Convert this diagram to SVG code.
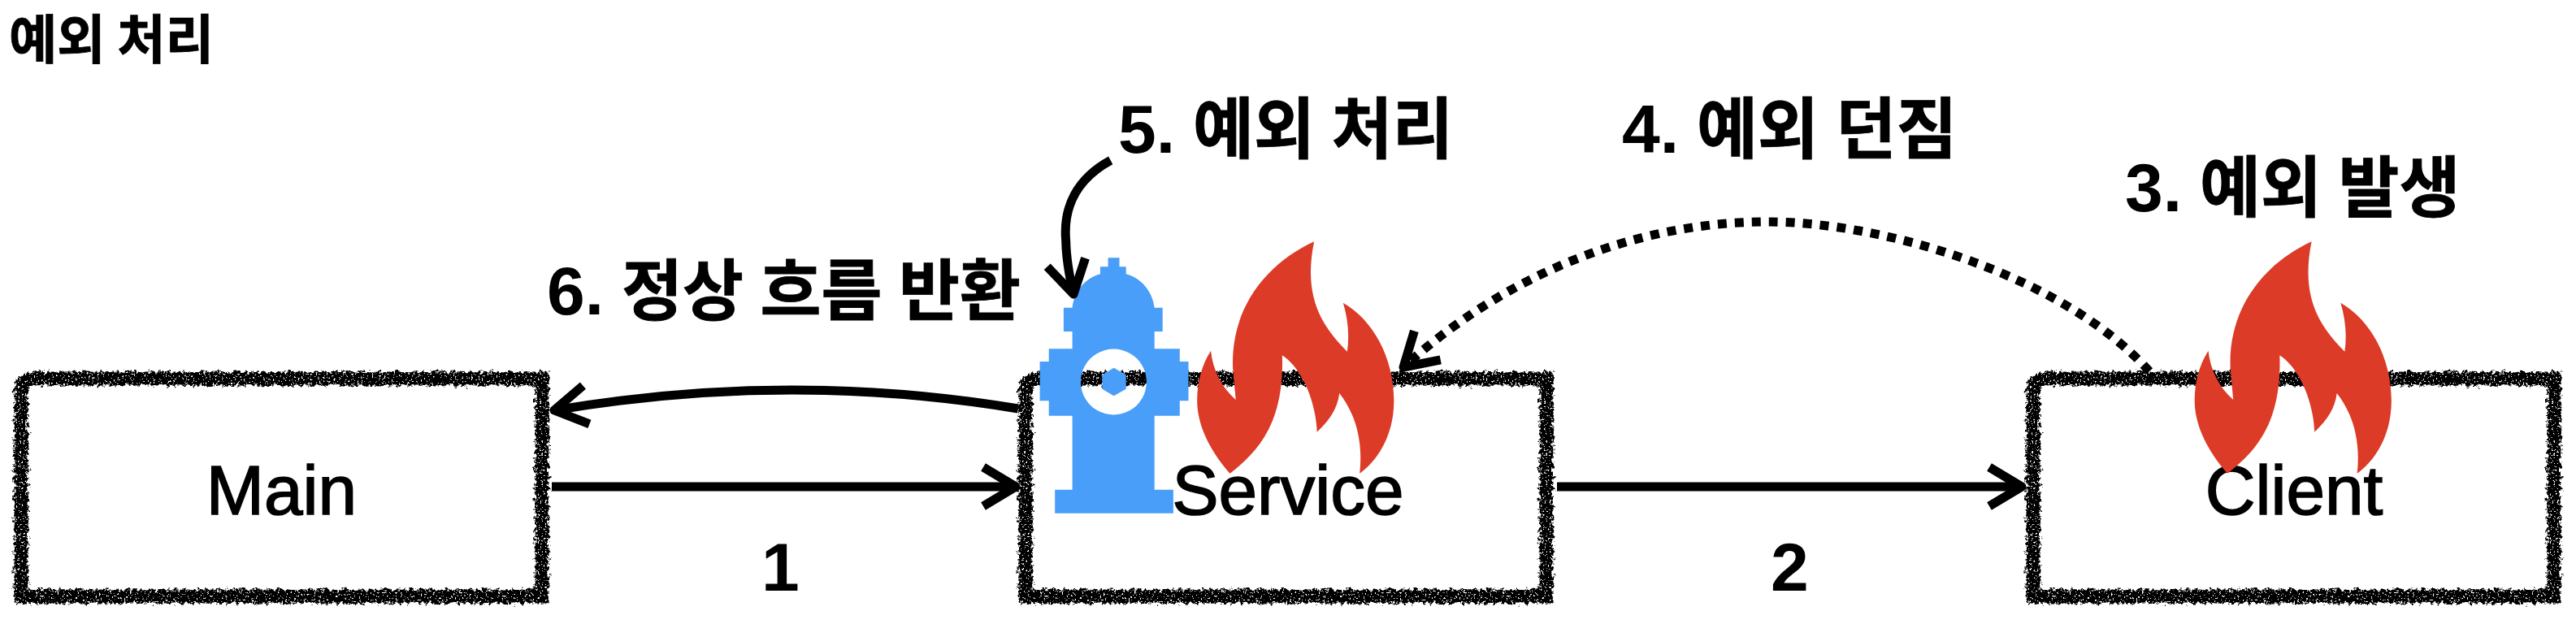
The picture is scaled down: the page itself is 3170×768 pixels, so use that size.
<svg xmlns="http://www.w3.org/2000/svg" width="3170" height="768" viewBox="0 0 3170 768">
<style>
text{font-family:"Liberation Sans","Noto Sans CJK KR",sans-serif;fill:#000}
.h{font-family:"Noto Sans CJK KR","Liberation Sans",sans-serif;font-weight:700;stroke:#000;stroke-width:.8px}
.t{font-size:64.5px}
.l{font-size:81.5px;word-spacing:2px}
.d{font-family:"Liberation Sans",sans-serif;font-weight:700;font-size:84px}
.n{font-size:85.5px;text-anchor:middle;stroke:#000;stroke-width:1.6px}
.c{fill:none;stroke:#000;stroke-width:11}
.flame{fill:#DB3B27}
.hyd{fill:#489EF9;fill-rule:evenodd}
</style>
<defs>
<filter id="rough" filterUnits="userSpaceOnUse" x="0" y="440" width="700" height="320">
<feTurbulence type="fractalNoise" baseFrequency="0.22 0.22" numOctaves="3" seed="7" result="n"/>
<feDisplacementMap in="SourceGraphic" in2="n" scale="11" xChannelSelector="R" yChannelSelector="G" result="d"/>
<feTurbulence type="fractalNoise" baseFrequency="0.45 0.45" numOctaves="2" seed="3"/>
<feColorMatrix type="matrix" values="0 0 0 0 0 0 0 0 0 0 0 0 0 0 0 14 0 0 0 -4.2" result="s"/>
<feComposite in="d" in2="s" operator="in"/>
</filter>
<path id="box" filter="url(#rough)" fill="none" stroke="#000" stroke-width="17" stroke-linejoin="miter" d="M26 734L26 482Q26 466 42 466L667 466L667 734Z"/>
<path id="fl" class="flame" d="M1168 52C1010 130 880 290 888 520L898 636C850 590 820 530 812 455C780 510 765 570 765 640C765 750 830 850 878 908C985 820 1065 710 1058 472C1115 510 1172 620 1178 755C1222 710 1248 670 1255 612C1312 690 1337 790 1325 908C1400 850 1443 750 1443 640C1443 480 1370 340 1268 278C1285 340 1290 400 1282 458C1190 360 1130 250 1168 52Z"/>
<marker id="ah" markerUnits="userSpaceOnUse" markerWidth="90" markerHeight="90" refX="60" refY="45" orient="auto" overflow="visible">
<path d="M20 21L60 45L20 69" fill="none" stroke="#000" stroke-width="11" stroke-linejoin="round"/>
</marker>
</defs>
<rect width="3170" height="768" fill="#fff"/>
<text id="title" class="h t" x="11" y="72">예외 처리</text>
<g id="main"><use href="#box"/><text class="n" x="346.5" y="633">Main</text></g>
<g id="service"><use href="#box" transform="translate(1236 0)"/><text class="n" x="1585" y="633">Service</text></g>
<g id="client"><use href="#box" transform="translate(2476 0)"/><text class="n" x="2823" y="633">Client</text></g>
<g id="hydrant"><path class="hyd" d="M1363.6 317.3H1377.5V328.3H1385.7V337.3C1404 342 1418 358 1420.7 378.7H1430.7V408H1420.7V429.3H1451.8V445H1462.5V493.3H1451.8V511.7H1420.7V602.7H1443.9V631.7H1298.2V602.7H1319.6V511.7H1290.7V493.3H1279.6V445H1290.7V429.3H1319.6V408H1308.9V378.7H1319.6C1322 358 1336 342 1353.9 337.3V328.3H1363.6ZM1370.4 429.5A40.5 40.5 0 1 0 1370.41 429.5ZM1370.7 452.7L1385.7 461.3V478.7L1370.7 487.3L1356.4 478.7V461.3Z"/></g>
<g id="flame-service"><use href="#fl" transform="translate(1200 280) scale(.35714 .33333)"/></g>
<g id="flame-client"><use href="#fl" transform="translate(2427.5 280) scale(.35714 .33333)"/></g>
<g id="connectors">
<path class="c" marker-end="url(#ah)" d="M679 599H1250"/>
<path class="c" marker-end="url(#ah)" d="M1916 599H2488"/>
<path class="c" marker-end="url(#ah)" d="M1253 503Q970 456 682 505"/>
<path class="c" marker-end="url(#ah)" d="M1366.7 197.3C1325 220 1308 255 1311.7 296.7C1312 320 1316 340 1321 362"/>
<path class="c" stroke-dasharray="11 10" marker-end="url(#ah)" d="M2645 457C2540 340 2320 273 2175 273C2010 273 1850 340 1727 452"/>
</g>
<g id="labels">
<text x="1376" y="188"><tspan class="d">5.</tspan><tspan class="h l" dx="22">예외 처리</tspan></text>
<text x="1996" y="188"><tspan class="d">4.</tspan><tspan class="h l" dx="22">예외 던짐</tspan></text>
<text x="2615" y="260"><tspan class="d">3.</tspan><tspan class="h l" dx="22">예외 발생</tspan></text>
<text x="673" y="387"><tspan class="d">6.</tspan><tspan class="h l" dx="22">정상 흐름 반환</tspan></text>
<text class="d" x="937" y="727">1</text>
<text class="d" x="2179" y="727">2</text>
</g>
</svg>
